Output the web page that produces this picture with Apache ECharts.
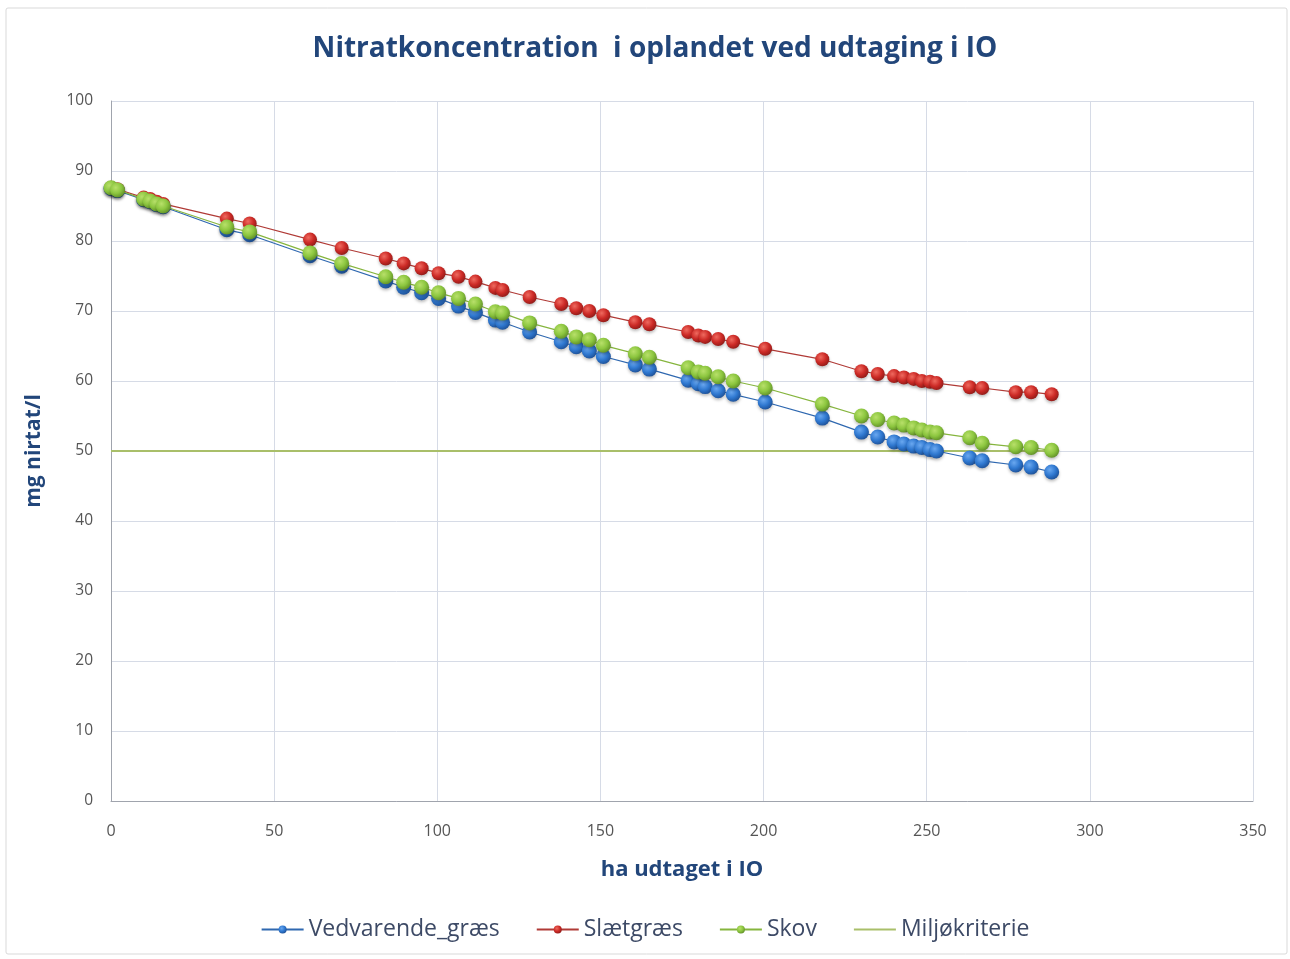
<!DOCTYPE html>
<html>
<head>
<meta charset="utf-8">
<script src="https://cdn.jsdelivr.net/npm/echarts@6/dist/echarts.min.js"></script>
<style>
  html, body { margin: 0; padding: 0; background: #ffffff; }
  #chart { width: 1290px; height: 959px; }
</style>
</head>
<body>
<div id="chart"></div>
<script>
// ha taken out (x), shared by all three series
const haUdtaget = [0, 2, 10, 12, 14, 16, 35.5, 42.5, 61, 70.7, 84.2, 89.7, 95.2, 100.4, 106.5, 111.7,
  117.8, 120, 128.3, 138, 142.6, 146.6, 150.9, 160.7, 165, 176.9, 180, 182.1, 186.1, 190.7, 200.5,
  218, 230, 235, 240, 243, 246, 248.5, 251, 253, 263.2, 267, 277.3, 282, 288.3];

const vedvarendeGraes = [87.5, 87.2, 85.9, 85.6, 85.2, 84.9, 81.6, 80.9, 77.9, 76.4, 74.3, 73.4, 72.6, 71.8, 70.7, 69.8,
  68.7, 68.4, 67.0, 65.6, 64.9, 64.3, 63.5, 62.3, 61.7, 60.1, 59.6, 59.2, 58.6, 58.1, 57.0,
  54.7, 52.7, 52.0, 51.3, 51.0, 50.7, 50.5, 50.2, 50.0, 49.0, 48.6, 48.0, 47.7, 47.0];

const slaetgraes = [87.6, 87.4, 86.2, 86.0, 85.6, 85.3, 83.2, 82.5, 80.2, 79.0, 77.5, 76.8, 76.1, 75.4, 74.9, 74.2,
  73.3, 73.0, 72.0, 71.0, 70.4, 70.0, 69.4, 68.4, 68.1, 67.0, 66.5, 66.3, 66.0, 65.6, 64.6,
  63.1, 61.4, 61.0, 60.7, 60.5, 60.3, 60.0, 59.9, 59.7, 59.1, 59.0, 58.4, 58.4, 58.1];

const skov = [87.6, 87.3, 86.0, 85.7, 85.3, 85.0, 82.0, 81.3, 78.3, 76.8, 74.9, 74.1, 73.4, 72.6, 71.8, 71.0,
  69.9, 69.7, 68.3, 67.1, 66.3, 65.9, 65.1, 63.9, 63.4, 61.9, 61.3, 61.1, 60.6, 60.0, 59.0,
  56.7, 55.0, 54.5, 54.0, 53.7, 53.3, 53.0, 52.7, 52.6, 51.9, 51.1, 50.6, 50.5, 50.1];

const miljoX = [0, 288.3];
const miljoY = [50, 50];

const pair = (xs, ys) => xs.map((x, i) => [x, ys[i]]);

const ball = (light, base, dark) => ({
  type: "radial", x: 0.38, y: 0.35, r: 0.7,
  colorStops: [
    { offset: 0, color: light },
    { offset: 0.55, color: base },
    { offset: 1, color: dark },
  ],
});

const textColor = "#22467a";

const chart = echarts.init(document.getElementById("chart"));
chart.setOption({
  animation: false,
  backgroundColor: "#ffffff",
  graphic: [{
    type: "rect",
    shape: { x: 6, y: 8, width: 1281, height: 946, r: 2 },
    style: { fill: "none", stroke: "#d9d9d9", lineWidth: 1 },
    silent: true,
  }],
  title: {
    text: "Nitratkoncentration  i oplandet ved udtaging i IO",
    left: 650, top: 30, textAlign: "center",
    textStyle: { fontFamily: "Open Sans", fontSize: 28, fontWeight: "bold", color: textColor },
  },
  grid: { left: 111, right: 37, top: 101, bottom: 158 },
  legend: {
    bottom: 13, left: "center",
    itemWidth: 42, itemHeight: 10, itemGap: 36,
    textStyle: { fontFamily: "Open Sans", fontSize: 23, color: "#3d4a66" },
    data: [
      "Vedvarende_græs",
      "Slætgræs",
      "Skov",
      { name: "Miljøkriterie", itemStyle: { opacity: 0 } },
    ],
  },
  xAxis: {
    type: "value", min: 0, max: 350, interval: 50,
    name: "ha udtaget i IO", nameLocation: "middle", nameGap: 58,
    nameTextStyle: { fontFamily: "Open Sans", fontSize: 22, fontWeight: "bold", color: textColor },
    axisLine: { lineStyle: { color: "#a0a4ad" } },
    axisTick: { show: false },
    axisLabel: { fontFamily: "Open Sans", fontSize: 16, color: "#555", margin: 22 },
    splitLine: { lineStyle: { color: "#d6dbe6" } },
  },
  yAxis: {
    type: "value", min: 0, max: 100, interval: 10,
    name: "mg nirtat/l", nameLocation: "middle", nameGap: 66,
    nameTextStyle: { fontFamily: "Open Sans", fontSize: 21, fontWeight: "bold", color: textColor },
    axisLine: { show: true, lineStyle: { color: "#a0a4ad" } },
    axisTick: { show: false },
    axisLabel: { fontFamily: "Open Sans", fontSize: 15.5, color: "#555", margin: 18 },
    splitLine: { lineStyle: { color: "#d6dbe6" } },
  },
  series: [
    {
      name: "Miljøkriterie", type: "line", z: 1,
      data: pair(miljoX, miljoY), symbol: "none",
      lineStyle: { color: "#a9bf6a", width: 2 },
      itemStyle: { color: "#a9bf6a" },
    },
    {
      name: "Vedvarende_græs", type: "line", z: 2,
      data: pair(haUdtaget, vedvarendeGraes),
      symbol: "circle", symbolSize: 15,
      lineStyle: { color: "#2f68b0", width: 1.2 },
      itemStyle: { color: ball("#6aa8f0", "#2f78d0", "#1d4f95"), shadowColor: "rgba(0,0,0,0.25)", shadowBlur: 3, shadowOffsetY: 2 },
    },
    {
      name: "Slætgræs", type: "line", z: 3,
      data: pair(haUdtaget, slaetgraes),
      symbol: "circle", symbolSize: 14,
      lineStyle: { color: "#b03a36", width: 1.2 },
      itemStyle: { color: ball("#ef6a5f", "#cc2a26", "#8e1b18"), shadowColor: "rgba(0,0,0,0.25)", shadowBlur: 3, shadowOffsetY: 2 },
    },
    {
      name: "Skov", type: "line", z: 4,
      data: pair(haUdtaget, skov),
      symbol: "circle", symbolSize: 15,
      lineStyle: { color: "#86b53e", width: 1.2 },
      itemStyle: { color: ball("#b8e06a", "#8cc63f", "#5f8d27"), shadowColor: "rgba(0,0,0,0.25)", shadowBlur: 3, shadowOffsetY: 2 },
    },
  ],
});
</script>
</body>
</html>
